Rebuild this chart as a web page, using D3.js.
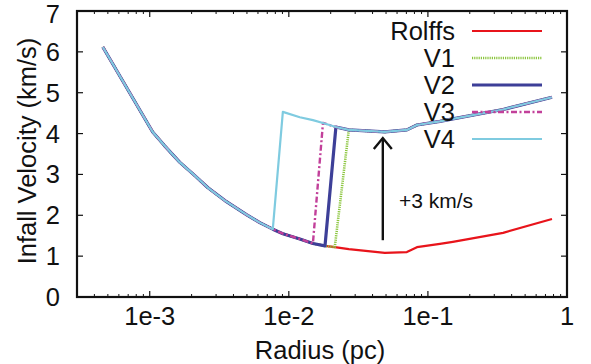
<!DOCTYPE html>
<html><head><meta charset="utf-8">
<script src="https://cdn.jsdelivr.net/npm/d3@7"></script>
<style>
html,body{margin:0;padding:0;background:#fff;}
text{font-family:"Liberation Sans",Arial,Helvetica,sans-serif;fill:#111;}
</style></head>
<body><svg id="c" width="591" height="364"></svg>
<script>
// ---- data ----
const radiusRolffs = [4.6e-4, 1.05e-3, 1.28e-3, 1.64e-3, 2.11e-3, 2.61e-3, 3.47e-3, 4.99e-3, 6.18e-3, 7.67e-3, 9.06e-3, 0.012, 0.0149, 0.0182, 0.0214, 0.027, 0.049, 0.0706, 0.0834, 0.122, 0.151, 0.347, 0.78];
const velRolffs    = [6.12, 4.04, 3.70, 3.30, 2.97, 2.68, 2.36, 2.01, 1.82, 1.66, 1.55, 1.42, 1.31, 1.25, 1.22, 1.17, 1.08, 1.10, 1.22, 1.30, 1.35, 1.57, 1.91];

const radiusV1 = [4.6e-4, 1.05e-3, 1.28e-3, 1.64e-3, 2.11e-3, 2.61e-3, 3.47e-3, 4.99e-3, 6.18e-3, 7.67e-3, 9.06e-3, 0.012, 0.0149, 0.0182, 0.0214, 0.027, 0.049, 0.0706, 0.0834, 0.122, 0.151, 0.347, 0.78];
const velV1    = [6.12, 4.04, 3.70, 3.30, 2.97, 2.68, 2.36, 2.01, 1.82, 1.66, 1.55, 1.42, 1.31, 1.25, 1.22, 4.09, 4.04, 4.09, 4.21, 4.30, 4.36, 4.59, 4.89];

const radiusV2 = [4.6e-4, 1.05e-3, 1.28e-3, 1.64e-3, 2.11e-3, 2.61e-3, 3.47e-3, 4.99e-3, 6.18e-3, 7.67e-3, 9.06e-3, 0.012, 0.0149, 0.0182, 0.0218, 0.027, 0.049, 0.0706, 0.0834, 0.122, 0.151, 0.347, 0.78];
const velV2    = [6.12, 4.04, 3.70, 3.30, 2.97, 2.68, 2.36, 2.01, 1.82, 1.66, 1.55, 1.42, 1.31, 1.25, 4.16, 4.09, 4.04, 4.09, 4.21, 4.30, 4.36, 4.59, 4.89];

const radiusV3 = [4.6e-4, 1.05e-3, 1.28e-3, 1.64e-3, 2.11e-3, 2.61e-3, 3.47e-3, 4.99e-3, 6.18e-3, 7.67e-3, 9.06e-3, 0.012, 0.0149, 0.0176, 0.0218, 0.027, 0.049, 0.0706, 0.0834, 0.122, 0.151, 0.347, 0.78];
const velV3    = [6.12, 4.04, 3.70, 3.30, 2.97, 2.68, 2.36, 2.01, 1.82, 1.66, 1.55, 1.42, 1.31, 4.26, 4.16, 4.09, 4.04, 4.09, 4.21, 4.30, 4.36, 4.59, 4.89];

const radiusV4 = [4.6e-4, 1.05e-3, 1.28e-3, 1.64e-3, 2.11e-3, 2.61e-3, 3.47e-3, 4.99e-3, 6.18e-3, 7.67e-3, 9.06e-3, 0.012, 0.0149, 0.0176, 0.0218, 0.027, 0.049, 0.0706, 0.0834, 0.122, 0.151, 0.347, 0.78];
const velV4    = [6.12, 4.04, 3.70, 3.30, 2.97, 2.68, 2.36, 2.01, 1.82, 1.66, 4.53, 4.40, 4.33, 4.26, 4.16, 4.09, 4.04, 4.09, 4.21, 4.30, 4.36, 4.59, 4.89];

const seriesNames = ["Rolffs", "V1", "V2", "V3", "V4"];
const xTickValues = [1e-3, 1e-2, 1e-1, 1];
const xTickLabels = ["1e-3", "1e-2", "1e-1", "1"];
const yTickValues = [0, 1, 2, 3, 4, 5, 6, 7];
const arrowRadius = 0.0474;
const arrowFrom = 1.39, arrowTo = 3.89;
const arrowLabel = "+3 km/s";

// ---- layout ----
const svg = d3.select("#c");
const L = 77, R = 567, T = 11, B = 297;
const x = d3.scaleLog().domain([3e-4, 1]).range([L, R]);
const y = d3.scaleLinear().domain([0, 7]).range([B, T]);
const FS = 25.5;

const styles = [
  {color:"#e8141b", width:2.2, dash:null},
  {color:"#8cc63f", width:2.6, dash:"1.2,1"},
  {color:"#3d3f98", width:3.2, dash:null},
  {color:"#c2409a", width:2.4, dash:"6,2.5,2,2.5"},
  {color:"#7fcbe0", width:2.2, dash:null}
];
const radii = [radiusRolffs, radiusV1, radiusV2, radiusV3, radiusV4];
const vels = [velRolffs, velV1, velV2, velV3, velV4];

const line = d3.line().x(d => x(d[0])).y(d => y(d[1]));
const g = svg.append("g");
radii.forEach((rs, i) => {
  const pts = rs.map((r, j) => [r, vels[i][j]]);
  g.append("path").attr("d", line(pts)).attr("fill", "none")
    .attr("stroke", styles[i].color).attr("stroke-width", styles[i].width)
    .attr("stroke-dasharray", styles[i].dash)
    .attr("stroke-linejoin", "round");
});

// minor ticks for log axis
const minor = [];
for (let e = -4; e <= 0; e++) for (let k = 2; k <= 9; k++) {
  const v = k * Math.pow(10, e);
  if (v > 3e-4 && v < 1) minor.push(v);
}
const ax = svg.append("g").attr("stroke", "#111");
minor.forEach(v => {
  ax.append("line").attr("x1", x(v)).attr("x2", x(v)).attr("y1", B).attr("y2", B - 3).attr("stroke-width", 1);
  ax.append("line").attr("x1", x(v)).attr("x2", x(v)).attr("y1", T).attr("y2", T + 3).attr("stroke-width", 1);
});
xTickValues.forEach(v => {
  ax.append("line").attr("x1", x(v)).attr("x2", x(v)).attr("y1", B).attr("y2", B - 6).attr("stroke-width", 1.2);
  ax.append("line").attr("x1", x(v)).attr("x2", x(v)).attr("y1", T).attr("y2", T + 6).attr("stroke-width", 1.2);
});
yTickValues.forEach(v => {
  ax.append("line").attr("x1", L).attr("x2", L + 6).attr("y1", y(v)).attr("y2", y(v)).attr("stroke-width", 1.2);
  ax.append("line").attr("x1", R).attr("x2", R - 6).attr("y1", y(v)).attr("y2", y(v)).attr("stroke-width", 1.2);
});
svg.append("rect").attr("x", L).attr("y", T).attr("width", R - L).attr("height", B - T)
  .attr("fill", "none").attr("stroke", "#111").attr("stroke-width", 2.2);

// tick labels
xTickValues.forEach((v, i) => {
  svg.append("text").attr("x", x(v)).attr("y", 325).attr("text-anchor", "middle")
    .attr("font-size", FS).text(xTickLabels[i]);
});
yTickValues.forEach(v => {
  svg.append("text").attr("x", 60).attr("y", Math.max(y(v) + 9, 23)).attr("text-anchor", "end")
    .attr("font-size", FS).text(v);
});
svg.append("text").attr("x", (L + R) / 2 - 2).attr("y", 359).attr("text-anchor", "middle")
  .attr("font-size", FS).text("Radius (pc)");
svg.append("text").attr("transform", "translate(36,151) rotate(-90)").attr("text-anchor", "middle")
  .attr("font-size", FS).text("Infall Velocity (km/s)");

// legend
seriesNames.forEach((n, i) => {
  const yy = 31 + i * 27;
  svg.append("text").attr("x", 455).attr("y", yy + 9).attr("text-anchor", "end")
    .attr("font-size", FS).text(n);
  svg.append("line").attr("x1", 472).attr("x2", 542).attr("y1", yy).attr("y2", yy)
    .attr("stroke", styles[i].color).attr("stroke-width", styles[i].width)
    .attr("stroke-dasharray", styles[i].dash);
});

// arrow annotation
const axp = x(arrowRadius);
svg.append("line").attr("x1", axp).attr("x2", axp).attr("y1", y(arrowFrom)).attr("y2", y(arrowTo))
  .attr("stroke", "#111").attr("stroke-width", 2.4);
svg.append("path").attr("d", `M${axp - 9},${y(arrowTo) + 11} L${axp},${y(arrowTo)} L${axp + 9},${y(arrowTo) + 11}`)
  .attr("fill", "none").attr("stroke", "#111").attr("stroke-width", 2.4);
svg.append("text").attr("x", 399).attr("y", 208).attr("font-size", 21).text(arrowLabel);
</script></body></html>
